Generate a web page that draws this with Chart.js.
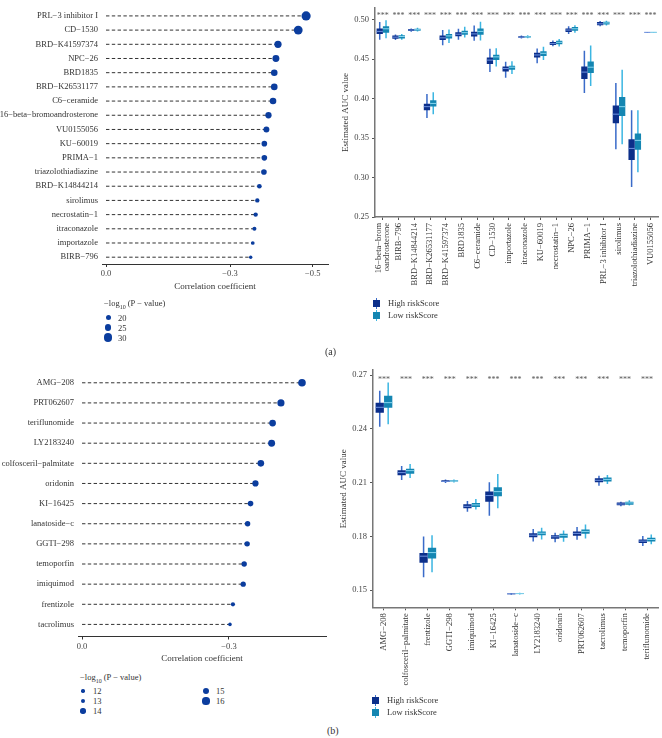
<!DOCTYPE html>
<html>
<head>
<meta charset="utf-8">
<script src="https://cdn.jsdelivr.net/npm/chart.js@4.4.0/dist/chart.umd.min.js"></script>
<style>
  body { margin: 0; background: #fff; font-family: "Liberation Serif", serif; color: #333; }
  #page { position: relative; width: 662px; height: 738px; overflow: hidden; }
  .cv { position: absolute; }
  .txt { position: absolute; font-size: 8.5px; line-height: 10px; white-space: nowrap; color: #333; }
  .dot { position: absolute; border-radius: 50%; background: #0b3d9e; }
  .tag { position: absolute; font-size: 10px; color: #333; }
  .icon { position: absolute; width: 7px; height: 11px; }
  .icon .w { position: absolute; left: 3px; top: 0; width: 1px; height: 11px; }
  .icon .b { position: absolute; left: 0; top: 2px; width: 7px; height: 7px; }
</style>
</head>
<body>
<div id="page">
  <div class="cv" style="left:0;top:0;width:340px;height:300px"><canvas id="lolliA"></canvas></div>
  <div class="cv" style="left:300px;top:0;width:362px;height:300px"><canvas id="boxA"></canvas></div>
  <div class="cv" style="left:0;top:360px;width:340px;height:310px"><canvas id="lolliB"></canvas></div>
  <div class="cv" style="left:300px;top:360px;width:362px;height:340px"><canvas id="boxB"></canvas></div>
  <div class="tag" style="left:325px;top:346px">(a)</div>
  <div class="tag" style="left:327px;top:725px">(b)</div>
</div>
<script>
// ---- (a) correlation with riskScore
const drugsA = ['PRL−3 inhibitor I', 'CD−1530', 'BRD−K41597374', 'NPC−26', 'BRD1835', 'BRD−K26531177',
  'C6−ceramide', '16−beta−bromoandrosterone', 'VU0155056', 'KU−60019', 'PRIMA−1', 'triazolothiadiazine',
  'BRD−K14844214', 'sirolimus', 'necrostatin−1', 'itraconazole', 'importazole', 'BIRB−796'];
const corrA = [-0.484, -0.465, -0.416, -0.411, -0.407, -0.407, -0.404, -0.393, -0.388, -0.383, -0.383, -0.382,
  -0.371, -0.366, -0.362, -0.359, -0.355, -0.350];
const logpA = [33, 32, 27, 26, 25, 25, 25, 24, 23, 22, 22, 22, 19, 18, 18, 17, 16, 15];
const corrTicksA = [0, -0.3, -0.5];
const sizeLegendA = [20, 25, 30];

// ---- (a) estimated AUC, [min, q1, median, q3, max]
const aucDrugsA = [['16−beta−brom', 'oandrosterone'], 'BIRB−796', 'BRD−K14844214', 'BRD−K26531177', 'BRD−K41597374',
  'BRD1835', 'C6−ceramide', 'CD−1530', 'importazole', 'itraconazole', 'KU−60019', 'necrostatin−1', 'NPC−26',
  'PRIMA−1', 'PRL−3 inhibitor I', 'sirolimus', 'triazolothiadiazine', 'VU0155056'];
const aucHighA = [
  [0.4746, 0.482, 0.4852, 0.489, 0.497], [0.4742, 0.4758, 0.4779, 0.480, 0.4811], [0.4848, 0.4857, 0.4869, 0.4881, 0.4889],
  [0.3754, 0.3852, 0.3898, 0.3934, 0.4057], [0.4676, 0.4742, 0.477, 0.4799, 0.4869], [0.4746, 0.479, 0.4816, 0.484, 0.4885],
  [0.4734, 0.4787, 0.482, 0.4848, 0.4926], [0.4336, 0.4439, 0.4488, 0.452, 0.4631], [0.4266, 0.4344, 0.4381, 0.4406, 0.4467],
  [0.4762, 0.477, 0.4779, 0.479, 0.4799], [0.4447, 0.452, 0.4553, 0.4582, 0.4635], [0.4664, 0.468, 0.4697, 0.4717, 0.4738],
  [0.482, 0.4844, 0.4869, 0.489, 0.4918], [0.407, 0.425, 0.4336, 0.4406, 0.4607], [0.4918, 0.493, 0.4947, 0.4971, 0.4984],
  [0.336, 0.3689, 0.3803, 0.3914, 0.4197], [0.288, 0.3221, 0.3369, 0.3484, 0.3852], [0.4836, 0.4838, 0.484, 0.4842, 0.4844]];
const aucLowA = [
  [0.4766, 0.4836, 0.4885, 0.4918, 0.4992], [0.4746, 0.4762, 0.4787, 0.4803, 0.482], [0.4852, 0.4861, 0.4873, 0.4885, 0.4898],
  [0.3803, 0.390, 0.3939, 0.398, 0.4082], [0.4705, 0.4762, 0.4795, 0.482, 0.4877], [0.4775, 0.481, 0.4836, 0.486, 0.491],
  [0.4738, 0.481, 0.4852, 0.489, 0.4975], [0.4406, 0.4488, 0.4529, 0.4557, 0.4639], [0.4311, 0.4365, 0.4398, 0.4418, 0.4475],
  [0.4766, 0.4774, 0.4783, 0.4792, 0.4803], [0.4488, 0.4541, 0.4574, 0.460, 0.4656], [0.466, 0.4689, 0.4713, 0.4734, 0.4754],
  [0.4836, 0.486, 0.4885, 0.4906, 0.493], [0.416, 0.4324, 0.4398, 0.4471, 0.4672], [0.4926, 0.4939, 0.4959, 0.4975, 0.4988],
  [0.3422, 0.378, 0.3898, 0.402, 0.4365], [0.3066, 0.3352, 0.3471, 0.3557, 0.3852], [0.4837, 0.4839, 0.4841, 0.4843, 0.4845]];
const aucTicksA = [0.25, 0.30, 0.35, 0.40, 0.45, 0.50];

// ---- (b) correlation with riskScore
const drugsB = ['AMG−208', 'PRT062607', 'teriflunomide', 'LY2183240', 'colfosceril−palmitate', 'oridonin', 'KI−16425',
  'lanatoside−c', 'GGTI−298', 'temoporfin', 'imiquimod', 'frentizole', 'tacrolimus'];
const corrB = [-0.449, -0.406, -0.389, -0.387, -0.365, -0.354, -0.344, -0.338, -0.337, -0.331, -0.329, -0.308, -0.302];
const logpB = [16.5, 16, 15.5, 15.8, 15.4, 15, 14.3, 14.1, 14.2, 14.1, 14, 12.9, 12.2];
const corrTicksB = [0, -0.3];
const sizeLegendB = [12, 13, 14, 15, 16];

// ---- (b) estimated AUC, [min, q1, median, q3, max]
const aucDrugsB = ['AMG−208', 'colfosceril−palmitate', 'frentizole', 'GGTI−298', 'imiquimod', 'KI−16425', 'lanatoside−c',
  'LY2183240', 'oridonin', 'PRT062607', 'tacrolimus', 'temoporfin', 'teriflunomide'];
const aucHighB = [
  [0.2412, 0.249, 0.252, 0.2546, 0.2613], [0.2115, 0.2141, 0.2156, 0.2169, 0.2193], [0.1572, 0.1653, 0.169, 0.1708, 0.18],
  [0.2098, 0.2104, 0.2107, 0.2113, 0.2117], [0.1938, 0.1957, 0.1968, 0.1979, 0.1998], [0.1916, 0.1994, 0.2028, 0.205, 0.2102],
  [0.1475, 0.1478, 0.148, 0.1482, 0.1485], [0.1772, 0.1796, 0.1807, 0.1818, 0.1842], [0.1767, 0.1787, 0.1798, 0.1806, 0.182],
  [0.1782, 0.1804, 0.1817, 0.1828, 0.1852], [0.2083, 0.2102, 0.2113, 0.2124, 0.2139], [0.1968, 0.1974, 0.1981, 0.1989, 0.1994],
  [0.1747, 0.1763, 0.1774, 0.1783, 0.1802]];
const aucLowB = [
  [0.2425, 0.2518, 0.2546, 0.2585, 0.2659], [0.2126, 0.215, 0.2167, 0.2178, 0.2204], [0.1601, 0.1677, 0.171, 0.1737, 0.1806],
  [0.2101, 0.2106, 0.2109, 0.2114, 0.2118], [0.195, 0.1964, 0.1976, 0.1987, 0.2009], [0.1957, 0.2024, 0.205, 0.2074, 0.2148],
  [0.1476, 0.1479, 0.1481, 0.1483, 0.1486], [0.1783, 0.1806, 0.1818, 0.1828, 0.1848], [0.1771, 0.1793, 0.1806, 0.1815, 0.1833],
  [0.1789, 0.1815, 0.1828, 0.1839, 0.1866], [0.2093, 0.2106, 0.2118, 0.2128, 0.2143], [0.1972, 0.1977, 0.1987, 0.1994, 0.2002],
  [0.1756, 0.1772, 0.1783, 0.1793, 0.1811]];
const aucTicksB = [0.15, 0.18, 0.21, 0.24, 0.27];

const groups = ['High riskScore', 'Low riskScore'];

Chart.defaults.font.family = '"Liberation Serif", serif';
Chart.defaults.font.size = 8.5;
Chart.defaults.color = '#333';
Chart.defaults.animation = false;

const DOT = '#0b3d9e';
const HIGH = { box: '#0c2f8a', whisker: '#3a6bc9', median: '#6f93e0' };
const LOW = { box: '#1486b2', whisker: '#3cb6e2', median: '#86d6f0' };

const page = document.getElementById('page');
function addEl(cls, css, html) {
  const d = document.createElement('div');
  d.className = cls;
  Object.assign(d.style, css);
  if (html) d.innerHTML = html;
  page.appendChild(d);
  return d;
}

// lollipop: dashed segment from 0 to the coefficient, dot sized by -log10(p)
function lollipop(id, names, corr, logp, ticks, o) {
  const segments = names.map((n, i) => ({
    type: 'line',
    data: [{ x: 0, y: i }, { x: corr[i], y: i }],
    borderColor: '#333', borderWidth: 1, borderDash: [3.4, 2.4],
    pointRadius: 0
  }));
  const dots = {
    type: 'scatter',
    data: names.map((n, i) => ({ x: corr[i], y: i })),
    pointRadius: logp.map(o.radius),
    pointHoverRadius: logp.map(o.radius),
    backgroundColor: DOT, borderWidth: 0
  };
  new Chart(document.getElementById(id), {
    type: 'scatter',
    data: { datasets: [dots, ...segments] },
    options: {
      responsive: true, maintainAspectRatio: false,
      layout: { padding: { top: o.padTop, left: 0, right: o.padRight, bottom: 0 } },
      plugins: { legend: { display: false }, tooltip: { enabled: false } },
      scales: {
        x: {
          type: 'linear', reverse: true, min: o.xMin, max: o.xMax,
          afterBuildTicks: s => { s.ticks = ticks.map(v => ({ value: v })); },
          afterFit: s => { s.height = o.xHeight; },
          ticks: {
            color: '#444', padding: 2,
            callback: v => v === 0 ? '0.0' : '−' + Math.abs(v).toFixed(1)
          },
          grid: { display: true, drawOnChartArea: false, tickLength: 3, color: '#333' },
          border: { display: true, color: '#333', width: 1 },
          title: { display: true, text: 'Correlation coefficient', font: { size: 9 }, color: '#333',
                   padding: { top: 4, bottom: o.titlePad } }
        },
        y: {
          type: 'linear', reverse: true, min: -o.rowPad, max: names.length - 1 + o.rowPad,
          afterBuildTicks: s => { s.ticks = names.map((n, i) => ({ value: i })); },
          afterFit: s => { s.width = o.yWidth; },
          ticks: { autoSkip: false, padding: 4, color: '#333', callback: v => names[v] },
          grid: { display: false, drawTicks: false },
          border: { display: false }
        }
      }
    }
  });
}

// centres two-line rotated labels on their tick, draws medians and significance stars
const boxExtras = {
  id: 'boxExtras',
  beforeDraw(chart) {
    chart.scales.x.getLabelItems().forEach(it => {
      if (Array.isArray(it.label) && !it.centred) {
        it.textOffset -= (it.label.length - 1) * it.font.lineHeight / 2;
        it.centred = true;
      }
    });
  },
  afterDatasetsDraw(chart, args, opts) {
    const ctx = chart.ctx, y = chart.scales.y, x = chart.scales.x;
    chart.data.datasets.forEach((ds, i) => {
      if (!ds.medians) return;
      const meta = chart.getDatasetMeta(i);
      ctx.save();
      ctx.strokeStyle = ds.medianColor;
      ctx.lineWidth = 1;
      meta.data.forEach((bar, j) => {
        const py = y.getPixelForValue(ds.medians[j]);
        ctx.beginPath();
        ctx.moveTo(bar.x - bar.width / 2, py);
        ctx.lineTo(bar.x + bar.width / 2, py);
        ctx.stroke();
      });
      ctx.restore();
    });
    ctx.save();
    ctx.fillStyle = '#555';
    ctx.font = '8px "Liberation Serif", serif';
    ctx.textAlign = 'center';
    ctx.textBaseline = 'middle';
    chart.data.labels.forEach((l, i) => {
      ctx.fillText(opts.stars, x.getPixelForValue(i), y.getPixelForValue(opts.starAt) + 2);
    });
    ctx.restore();
  }
};

function boxChart(id, cats, high, low, ticks, o) {
  const series = (rows, stack, c) => [
    { stack, order: 1, data: rows.map(r => [r[1], r[3]]), backgroundColor: c.box,
      barPercentage: o.boxPct, medians: rows.map(r => r[2]), medianColor: c.median },
    { stack, order: 2, data: rows.map(r => [r[0], r[4]]), backgroundColor: c.whisker, barPercentage: o.whiskerPct }
  ];
  new Chart(document.getElementById(id), {
    type: 'bar',
    data: { labels: cats, datasets: [...series(high, 'high', HIGH), ...series(low, 'low', LOW)] },
    options: {
      responsive: true, maintainAspectRatio: false,
      categoryPercentage: o.catPct,
      layout: { padding: { top: o.padTop, left: o.padLeft, right: o.padRight, bottom: 0 } },
      plugins: {
        legend: { display: false }, tooltip: { enabled: false },
        boxExtras: { stars: '***', starAt: o.starAt }
      },
      scales: {
        x: {
          stacked: true,
          afterFit: s => { s.height = o.xHeight; },
          ticks: { autoSkip: false, minRotation: 90, maxRotation: 90, padding: 3, color: '#333',
                   font: { size: 8.5, lineHeight: 1.0 } },
          grid: { display: true, drawOnChartArea: false, offset: false, tickLength: 3, color: '#555' },
          border: { display: true, color: '#777', width: 1.5 }
        },
        y: {
          stacked: false, min: o.yMin, max: o.yMax,
          afterBuildTicks: s => { s.ticks = ticks.map(v => ({ value: v })); },
          afterFit: s => { s.width = 39; },
          ticks: { padding: 3, color: '#444', callback: v => v.toFixed(2) },
          grid: { display: true, drawOnChartArea: false, tickLength: 3, color: '#555' },
          border: { display: true, color: '#777', width: 1.5 },
          title: { display: true, text: 'Estimated AUC value', font: { size: 9 }, color: '#333', padding: { top: 4, bottom: 0 } }
        }
      }
    },
    plugins: [boxExtras]
  });
}

// size legend for the lollipops
function sizeLegend(vals, radius, x0, y0, cols) {
  addEl('txt', { left: x0 + 'px', top: (y0 - 5) + 'px' },
    '−log<sub style="font-size:6px">10</sub> (P − value)');
  vals.forEach((v, i) => {
    const col = cols.find(c => i >= c.from && i < c.to);
    const cy = y0 + 14.5 + (i - col.from) * 10;
    const r = radius(v);
    addEl('dot', { left: (col.x - r) + 'px', top: (cy - r) + 'px', width: 2 * r + 'px', height: 2 * r + 'px' });
    addEl('txt', { left: (col.x + 10) + 'px', top: (cy - 5) + 'px' }, String(v));
  });
}

// group legend for the boxplots
function groupLegend(x0, y0) {
  [HIGH, LOW].forEach((c, i) => {
    const top = y0 + i * 12;
    const ic = addEl('icon', { left: x0 + 'px', top: (top - 5.5) + 'px' });
    ic.innerHTML = '<div class="w" style="background:' + c.whisker + '"></div><div class="b" style="background:' + c.box + '"></div>';
    addEl('txt', { left: (x0 + 15) + 'px', top: (top - 5) + 'px' }, groups[i]);
  });
}

const radiusA = p => 2.5 + (p - 20) * 0.16;
const radiusB = p => 1.7 + (p - 12) * 0.47;

lollipop('lolliA', drugsA, corrA, logpA, corrTicksA, {
  radius: radiusA, padTop: 0, padRight: 12, xMin: -0.537, xMax: 0.0097,
  xHeight: 36, yWidth: 102, rowPad: 0.48, titlePad: 7.5
});
lollipop('lolliB', drugsB, corrB, logpB, corrTicksB, {
  radius: radiusB, padTop: 10.7, padRight: 14, xMin: -0.498, xMax: 0.0082,
  xHeight: 33.5, yWidth: 78, rowPad: 0.6, titlePad: 5.5
});
boxChart('boxA', aucDrugsA, aucHighA, aucLowA, aucTicksA, {
  catPct: 0.8, boxPct: 1.0, whiskerPct: 0.24, padTop: 1, padLeft: 36, padRight: 0,
  xHeight: 83, yMin: 0.25, yMax: 0.5147, starAt: 0.507
});
boxChart('boxB', aucDrugsB, aucHighB, aucLowB, aucTicksB, {
  catPct: 0.77, boxPct: 0.98, whiskerPct: 0.18, padTop: 10, padLeft: 34, padRight: 4,
  xHeight: 92.7, yMin: 0.1405, yMax: 0.2728, starAt: 0.2685
});

sizeLegend(sizeLegendA, radiusA, 104, 303, [{ x: 108, from: 0, to: 3 }]);
sizeLegend(sizeLegendB, radiusB, 80, 676.5, [{ x: 83, from: 0, to: 3 }, { x: 206, from: 3, to: 5 }]);
groupLegend(373, 303);
groupLegend(372, 700);
</script>
</body>
</html>
